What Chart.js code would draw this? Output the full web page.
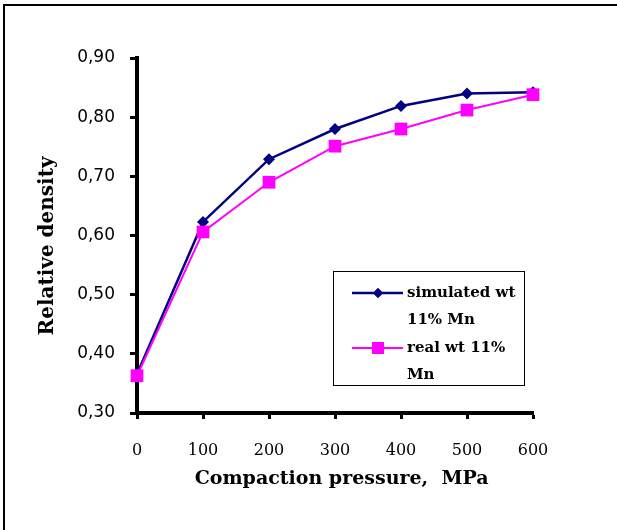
<!DOCTYPE html>
<html>
<head>
<meta charset="utf-8">
<script src="https://cdn.jsdelivr.net/npm/chart.js@4.4.1/dist/chart.umd.min.js"></script>
<style>
html,body{margin:0;padding:0;background:#fff;}
#wrap{position:relative;width:617px;height:530px;}
</style>
</head>
<body>
<div id="wrap"><canvas id="c" width="617" height="530"></canvas></div>
<script>
const pressures = [0, 100, 200, 300, 400, 500, 600];
const simulated = [0.366, 0.623, 0.729, 0.780, 0.819, 0.840, 0.842];
const real = [0.363, 0.606, 0.690, 0.751, 0.780, 0.812, 0.838];
const yTickLabels = ['0,30', '0,40', '0,50', '0,60', '0,70', '0,80', '0,90'];
const xTickLabels = ['0', '100', '200', '300', '400', '500', '600'];
const legendLabels = [['simulated wt', '11% Mn'], ['real wt 11%', 'Mn']];
const NAVY = '#000080', MAG = '#FF00FF';

const framePlugin = {
  id: 'frame',
  beforeDraw(chart) {
    const ctx = chart.ctx;
    ctx.save();
    ctx.fillStyle = '#fff';
    ctx.fillRect(0, 0, chart.width, chart.height);
    ctx.strokeStyle = '#000';
    ctx.lineWidth = 2;
    ctx.beginPath();
    ctx.moveTo(4, 530);
    ctx.lineTo(4, 5);
    ctx.lineTo(617, 5);
    ctx.stroke();
    ctx.restore();
  }
};

const legendPlugin = {
  id: 'customLegend',
  afterDraw(chart) {
    const ctx = chart.ctx;
    ctx.save();
    ctx.strokeStyle = '#000';
    ctx.lineWidth = 1;
    ctx.strokeRect(333.5, 271.5, 191, 114);
    const items = [
      {color: NAVY, style: 'rectRot', radius: 5, lw: 2.5, y: 293, lines: legendLabels[0]},
      {color: MAG, style: 'rect', radius: 8.5, lw: 2, y: 348, lines: legendLabels[1]}
    ];
    items.forEach(it => {
      ctx.strokeStyle = it.color;
      ctx.lineWidth = it.lw;
      ctx.beginPath();
      ctx.moveTo(352, it.y);
      ctx.lineTo(403, it.y);
      ctx.stroke();
      ctx.fillStyle = it.color;
      Chart.helpers.drawPoint(ctx, {pointStyle: it.style, radius: it.radius, borderWidth: 0, rotation: 0}, 378, it.y);
      ctx.fill();
      ctx.fillStyle = '#000';
      ctx.font = 'bold 15px "DejaVu Serif"';
      ctx.textBaseline = 'middle';
      ctx.textAlign = 'left';
      ctx.fillText(it.lines[0], 407, it.y);
      ctx.fillText(it.lines[1], 407, it.y + 27);
    });
    ctx.restore();
  }
};

new Chart(document.getElementById('c'), {
  type: 'line',
  data: {
    datasets: [
      {
        label: legendLabels[1].join(' '),
        data: pressures.map((p, i) => ({x: p, y: real[i]})),
        borderColor: MAG, backgroundColor: MAG,
        borderWidth: 2, pointStyle: 'rect', pointRadius: 9, pointHoverRadius: 9,
        pointBorderWidth: 0, tension: 0, clip: false
      },
      {
        label: legendLabels[0].join(' '),
        data: pressures.map((p, i) => ({x: p, y: simulated[i]})),
        borderColor: NAVY, backgroundColor: NAVY,
        borderWidth: 2.5, pointStyle: 'rectRot', pointRadius: 6, pointHoverRadius: 6,
        pointBorderWidth: 0, tension: 0, clip: false
      }
    ]
  },
  options: {
    responsive: false,
    animation: false,
    events: [],
    layout: {padding: {left: 0, right: 84, top: 58, bottom: 0}},
    plugins: {legend: {display: false}, tooltip: {enabled: false}},
    scales: {
      x: {
        type: 'linear', min: 0, max: 600,
        afterFit(s) { s.height = 117; },
        afterBuildTicks(s) { s.ticks = pressures.map(v => ({value: v})); },
        ticks: {
          callback: (v, i) => xTickLabels[i],
          font: {family: '"DejaVu Serif"', size: 16},
          color: '#000', padding: 22, maxRotation: 0, autoSkip: false
        },
        grid: {drawOnChartArea: false, drawTicks: true, tickLength: 6, tickWidth: 3, color: '#000'},
        border: {display: true, width: 4, color: '#000'},
        title: {
          display: true, text: '  Compaction pressure,  MPa',
          font: {family: '"DejaVu Serif"', size: 19, weight: 'bold'},
          color: '#000', padding: {top: 0, bottom: 40}
        }
      },
      y: {
        min: 0.3, max: 0.9,
        afterFit(s) { s.width = 137; },
        afterBuildTicks(s) { s.ticks = yTickLabels.map((t, i) => ({value: 0.3 + i * 0.1})); },
        ticks: {
          callback: (v, i) => yTickLabels[i],
          font: {family: '"DejaVu Sans"', size: 17},
          color: '#000', padding: 15, autoSkip: false
        },
        grid: {drawOnChartArea: false, drawTicks: true, tickLength: 7, tickWidth: 3, color: '#000'},
        border: {display: true, width: 4, color: '#000'},
        title: {
          display: true, text: 'Relative density   ',
          font: {family: '"DejaVu Serif"', size: 20, weight: 'bold'},
          color: '#000', padding: {top: 36, bottom: 0}
        }
      }
    }
  },
  plugins: [framePlugin, legendPlugin]
});
</script>
</body>
</html>
